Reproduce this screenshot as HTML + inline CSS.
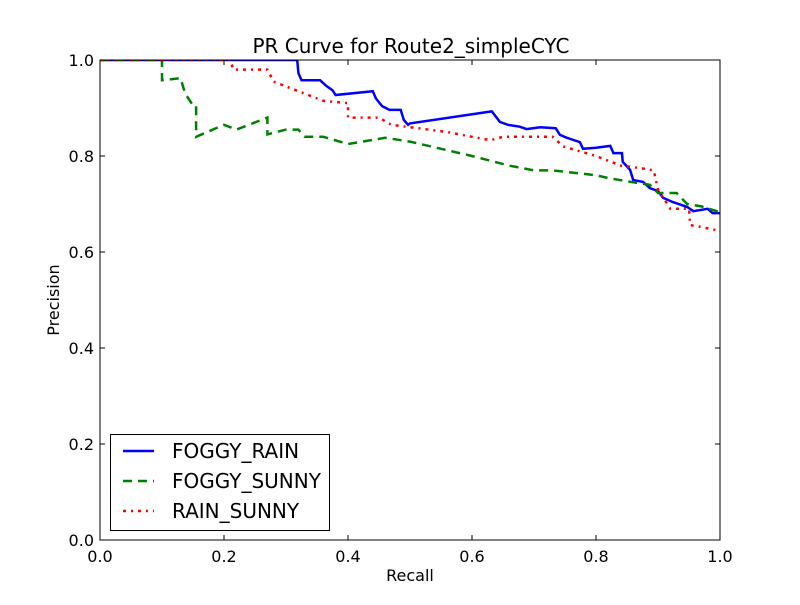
<!DOCTYPE html>
<html><head><meta charset="utf-8"><style>
body{margin:0;background:#fff;}
svg text{font-family:"DejaVu Sans","Liberation Sans",sans-serif;}
</style></head><body>
<svg id="chart" width="800" height="600" xmlns="http://www.w3.org/2000/svg">
<rect width="800" height="600" fill="#fff"/>
<g id="plot"></g>
</svg>
<script>
const xTicks=[0.0,0.2,0.4,0.6,0.8,1.0];
const yTicks=[0.0,0.2,0.4,0.6,0.8,1.0];
const foggyRainR=[0,0.318,0.32,0.325,0.355,0.365,0.375,0.38,0.44,0.445,0.455,0.467,0.485,0.49,0.497,0.5,0.632,0.645,0.658,0.677,0.688,0.71,0.735,0.742,0.753,0.774,0.779,0.8,0.823,0.828,0.842,0.843,0.855,0.86,0.876,0.887,0.9,0.908,0.924,0.947,0.957,0.98,0.988,1.0];
const foggyRainP=[1,1,0.973,0.958,0.958,0.946,0.937,0.927,0.935,0.92,0.904,0.896,0.896,0.875,0.865,0.868,0.893,0.871,0.865,0.861,0.856,0.86,0.858,0.844,0.838,0.829,0.815,0.817,0.821,0.806,0.806,0.788,0.771,0.75,0.746,0.733,0.727,0.713,0.704,0.694,0.685,0.69,0.681,0.681];
const foggySunnyR=[0,0.1,0.1,0.13,0.135,0.14,0.15,0.155,0.155,0.2,0.22,0.27,0.27,0.3,0.32,0.33,0.36,0.4,0.46,0.5,0.6,0.66,0.7,0.73,0.8,0.82,0.866,0.887,0.9,0.93,0.947,0.97,1.0];
const foggySunnyP=[1,1,0.958,0.962,0.94,0.925,0.905,0.905,0.84,0.865,0.855,0.88,0.845,0.855,0.855,0.84,0.84,0.825,0.838,0.83,0.8,0.78,0.77,0.77,0.76,0.754,0.744,0.74,0.723,0.723,0.70,0.695,0.683];
const rainSunnyR=[0,0.21,0.215,0.27,0.28,0.32,0.36,0.4,0.4,0.45,0.47,0.53,0.56,0.6,0.63,0.65,0.73,0.747,0.8,0.84,0.87,0.893,0.9,0.92,0.95,0.952,0.97,1.0];
const rainSunnyP=[1,1,0.98,0.98,0.955,0.935,0.915,0.91,0.88,0.88,0.865,0.855,0.85,0.84,0.833,0.84,0.84,0.82,0.8,0.78,0.775,0.77,0.73,0.69,0.69,0.656,0.652,0.644];

const NS='http://www.w3.org/2000/svg';
const L=100,R=720,T=60,B=540;
const xs=v=>L+(R-L)*v, ys=v=>B-(B-T)*v;
const g=document.getElementById('plot');
function mk(tag,attrs){const e=document.createElementNS(NS,tag);for(const k in attrs)e.setAttribute(k,attrs[k]);g.appendChild(e);return e;}

const clip=document.createElementNS(NS,'clipPath');clip.setAttribute('id','clp');
const cr=document.createElementNS(NS,'rect');cr.setAttribute('x',L);cr.setAttribute('y',T);cr.setAttribute('width',R-L);cr.setAttribute('height',B-T);
clip.appendChild(cr);g.appendChild(clip);

function series(rs,ps,color,dash,name){
  const d=rs.map((r,i)=>(i?'L':'M')+xs(r).toFixed(1)+' '+ys(ps[i]).toFixed(1)).join(' ');
  const p=mk('path',{d:d,fill:'none',stroke:color,'stroke-width':2.5,'stroke-dasharray':dash,'clip-path':'url(#clp)'});
  
  
}
series(foggyRainR,foggyRainP,'#0000ff','none','foggy-rain-line');
series(foggySunnyR,foggySunnyP,'#008000','9 6','foggy-sunny-line');
series(rainSunnyR,rainSunnyP,'#ff0000','3 5 2 5','rain-sunny-line');

const frame=mk('rect',{x:L,y:T,width:R-L,height:B-T,fill:'none',stroke:'#000','stroke-width':1});



xTicks.forEach(v=>{
  const x=xs(v);
  mk('line',{x1:x,y1:B,x2:x,y2:B-5,stroke:'#000'});
  mk('line',{x1:x,y1:T,x2:x,y2:T+5,stroke:'#000'});
  const t=mk('text',{x:x,y:B+22,'font-size':16,'text-anchor':'middle'});t.textContent=v.toFixed(1);
  
  
});
yTicks.forEach(v=>{
  const y=ys(v);
  mk('line',{x1:L,y1:y,x2:L+5,y2:y,stroke:'#000'});
  mk('line',{x1:R,y1:y,x2:R-5,y2:y,stroke:'#000'});
  const t=mk('text',{x:L-6,y:y+6,'font-size':16,'text-anchor':'end'});t.textContent=v.toFixed(1);
  
  
});
let t=mk('text',{x:411,y:53,'font-size':20,'text-anchor':'middle'});t.textContent='PR Curve for Route2_simpleCYC';


t=mk('text',{x:410,y:581,'font-size':16,'text-anchor':'middle'});t.textContent='Recall';


t=mk('text',{x:59,y:300,'font-size':16,'text-anchor':'middle',transform:'rotate(-90 59 300)'});t.textContent='Precision';



const lg=mk('rect',{x:110.5,y:434.5,width:219,height:96,fill:'#fff',stroke:'#000'});


const entries=[['FOGGY_RAIN','#0000ff','none',451],['FOGGY_SUNNY','#008000','9 6',481],['RAIN_SUNNY','#ff0000','3 5 2 5',511]];
entries.forEach(e=>{
  mk('line',{x1:123,y1:e[3],x2:154,y2:e[3],stroke:e[1],'stroke-width':2.5,'stroke-dasharray':e[2]});
  const tx=mk('text',{x:172,y:e[3]+7,'font-size':20});tx.textContent=e[0];
  
  
});
</script>
</body></html>
